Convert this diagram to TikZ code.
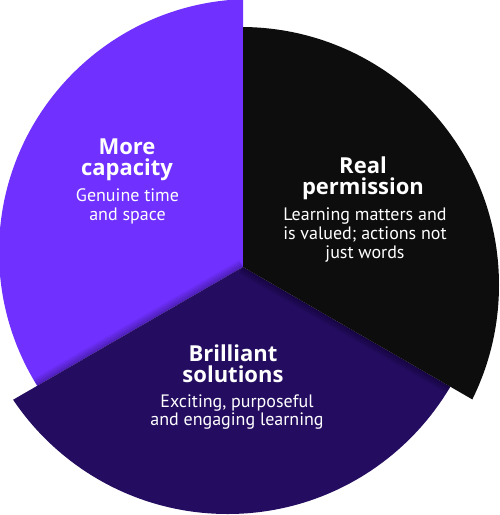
\documentclass[tikz,border=0pt]{standalone}
\usepackage{fontspec}
\setmainfont{PT Sans}
\newfontfamily\headfont{Open Sans}
\definecolor{cpurple}{HTML}{7030FF}
\definecolor{cnavy}{HTML}{240D60}
\definecolor{cblack}{HTML}{0D0D0D}
\tikzset{
  head/.style={anchor=base, text=white, font=\headfont\fontsize{22}{22}\selectfont\bfseries, inner sep=0pt},
  body/.style={anchor=base, text=white, font=\fontsize{18}{18}\selectfont, inner sep=0pt},
  shade strip/.style={line width=#1, black, opacity=0.035}
}
\begin{document}
\begin{tikzpicture}[x=1pt,y=-1pt]
\useasboundingbox (0,0) rectangle (500,515);
\clip (0,0) rectangle (500,515);
\coordinate (V) at (243,267);
\coordinate (Up) at (243,-333);
\coordinate (Ul) at (-363,-83);
\coordinate (Ur) at (849,-83);
\coordinate (Ll) at (-276.6,567);
\coordinate (Lr) at (762.6,567);
\coordinate (Dn) at (243,967);
% purple sector
\begin{scope}
  \clip (V) -- (Up) -- (Ul) -- (Ll) -- cycle;
  \fill[cpurple] (252,252) circle (253pt);
  \clip (252,252) circle (253pt);
  \foreach \w in {2,4,...,16} \draw[shade strip=\w pt] (V) -- (Ll);
\end{scope}
% navy sector
\begin{scope}
  \clip (V) -- (Ll) -- (Dn) -- (Lr) -- cycle;
  \fill[cnavy] (227.6,255.6) circle (258.4pt);
  \clip (227.6,255.6) circle (258.4pt);
  \foreach \w in {2,4,...,16} \draw[shade strip=\w pt] (V) -- (Lr);
\end{scope}
% black sector
\begin{scope}
  \clip (V) -- (Lr) -- (Ur) -- (Up) -- cycle;
  \fill[cblack] (241,285) circle (258pt);
\end{scope}
% texts
\node[head] (p1) at (127,154) {More};
\node[head] (p2) at (127,175) {capacity};
\node[body] (p3) at (127.5,201) {Genuine time};
\node[body] (p4) at (127.5,220) {and space};
\node[head] (b1) at (363,173) {Real};
\node[head] (b2) at (363,194) {permission};
\node[body] (b3) at (365,220) {Learning matters and};
\node[body] (b4) at (365,239) {is valued; actions not};
\node[body] (b5) at (365,258) {just words};
\node[head] (n1) at (233,361) {Brilliant};
\node[head] (n2) at (233,382) {solutions};
\node[body] (n3) at (237,407) {Exciting, purposeful};
\node[body] (n4) at (237,425) {and engaging learning};
\end{tikzpicture}
\end{document}
